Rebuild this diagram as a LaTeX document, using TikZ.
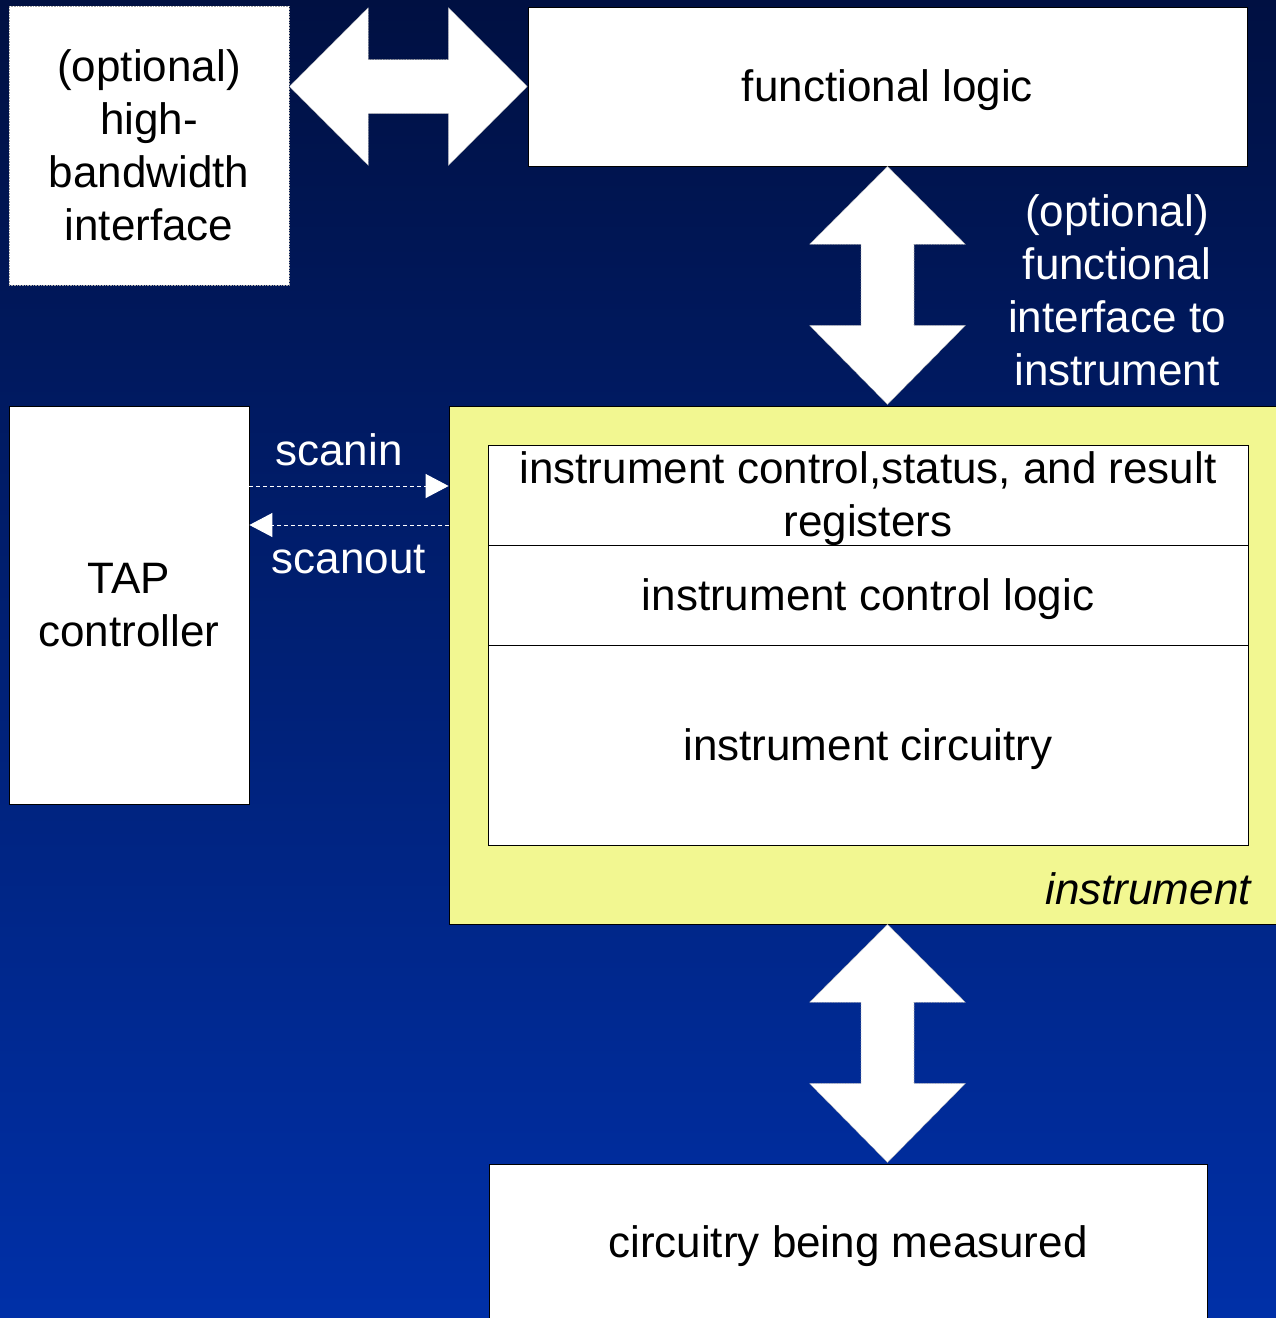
\documentclass[tikz,border=0pt]{standalone}
\usepackage{fontspec}
\setmainfont{Liberation Sans}
\usetikzlibrary{arrows.meta,calc}
\definecolor{bgtop}{RGB}{0,16,66}
\definecolor{bgbot}{RGB}{0,48,168}
\definecolor{instyellow}{RGB}{242,247,145}
\tikzset{
  txt/.style={font=\fontsize{44}{53}\selectfont, align=center, inner sep=0pt},
  oneline/.style={text height=36pt, text depth=6pt},
  wbox/.style={txt, fill=white, draw=black, line width=0.8pt},
  dotbox/.style={txt, fill=white, draw=gray!70, densely dotted, line width=0.6pt},
  blockarrow/.style={fill=white, draw=gray!70, densely dotted, line width=0.6pt},
  scanline/.style={draw=white, line width=1pt, dash pattern=on 4pt off 3pt,
     -{Triangle[length=23pt,width=24pt]}},
  wlabel/.style={txt, text=white},
}
\begin{document}
\begin{tikzpicture}[x=1pt,y=-1pt]
\useasboundingbox (0,0) rectangle (1276,1318);
\shade[top color=bgtop, bottom color=bgbot] (0,0) rectangle (1276,1318);

% boxes
\node[dotbox, minimum width=280, minimum height=279] (hbi) at (149,145.5)
  {(optional)\\high-\\bandwidth\\interface};
\node[wbox, oneline, minimum width=719, minimum height=159] (fl) at (887.5,86.5) {functional logic};
\node[wbox, minimum width=240, minimum height=398] (tap) at (129,605) {TAP\\controller};
\node[draw=black, line width=0.8pt, fill=instyellow, minimum width=832, minimum height=518,
  inner sep=0pt] (instr) at (865,665) {};
\node[wbox, minimum width=760, minimum height=100] (reg) at (868,495) {};
\node[txt] (regtext) at (868,499) {instrument control,status, and result\\registers};
\node[wbox, oneline, minimum width=760, minimum height=100] (ctl) at (868,595) {instrument control logic};
\node[wbox, oneline, minimum width=760, minimum height=200] (circ) at (868,745) {instrument circuitry};
\node[txt, anchor=base east, font=\fontsize{44}{53}\selectfont\itshape] (ilabel) at (1251,904) {instrument};
\node[wbox, minimum width=718, minimum height=170] (cbm) at (848,1249) {};
\node[txt] (cbmtext) at (848,1246) {circuitry being measured};

% block arrows
\coordinate (hA) at (hbi.east |- fl.west);
\draw[blockarrow] (hA) -- ++(79,-79) -- ++(0,52) -- ++(80,0) -- ++(0,-52) -- ++(79,79)
  -- ++(-79,79) -- ++(0,-52) -- ++(-80,0) -- ++(0,52) -- cycle;
\draw[blockarrow] (fl.south) -- ++(78,78) -- ++(-51.5,0) -- ++(0,81) -- ++(51.5,0)
  -- ++(-78,79) -- ++(-78,-79) -- ++(51.5,0) -- ++(0,-81) -- ++(-51.5,0) -- cycle;
\coordinate (vB) at (fl.south |- instr.south);
\draw[blockarrow] (vB) -- ++(78,78) -- ++(-51.5,0) -- ++(0,81) -- ++(51.5,0)
  -- ++(-78,79) -- ++(-78,-79) -- ++(51.5,0) -- ++(0,-81) -- ++(-51.5,0) -- cycle;
\node[wlabel] (fiti) at (1117,290) {(optional)\\functional\\interface to\\instrument};

% scan connectors
\coordinate (sinA) at ([yshift=119pt]tap.east);
\coordinate (sinB) at (sinA -| instr.west);
\coordinate (soutA) at ([yshift=80pt]tap.east);
\coordinate (soutB) at (soutA -| instr.west);
\draw[scanline] (sinA) -- (sinB);
\draw[scanline] (soutB) -- (soutA);
\node[wlabel] (scanin) at (339,450) {scanin};
\node[wlabel] (scanout) at (349,559) {scanout};
\end{tikzpicture}
\end{document}
